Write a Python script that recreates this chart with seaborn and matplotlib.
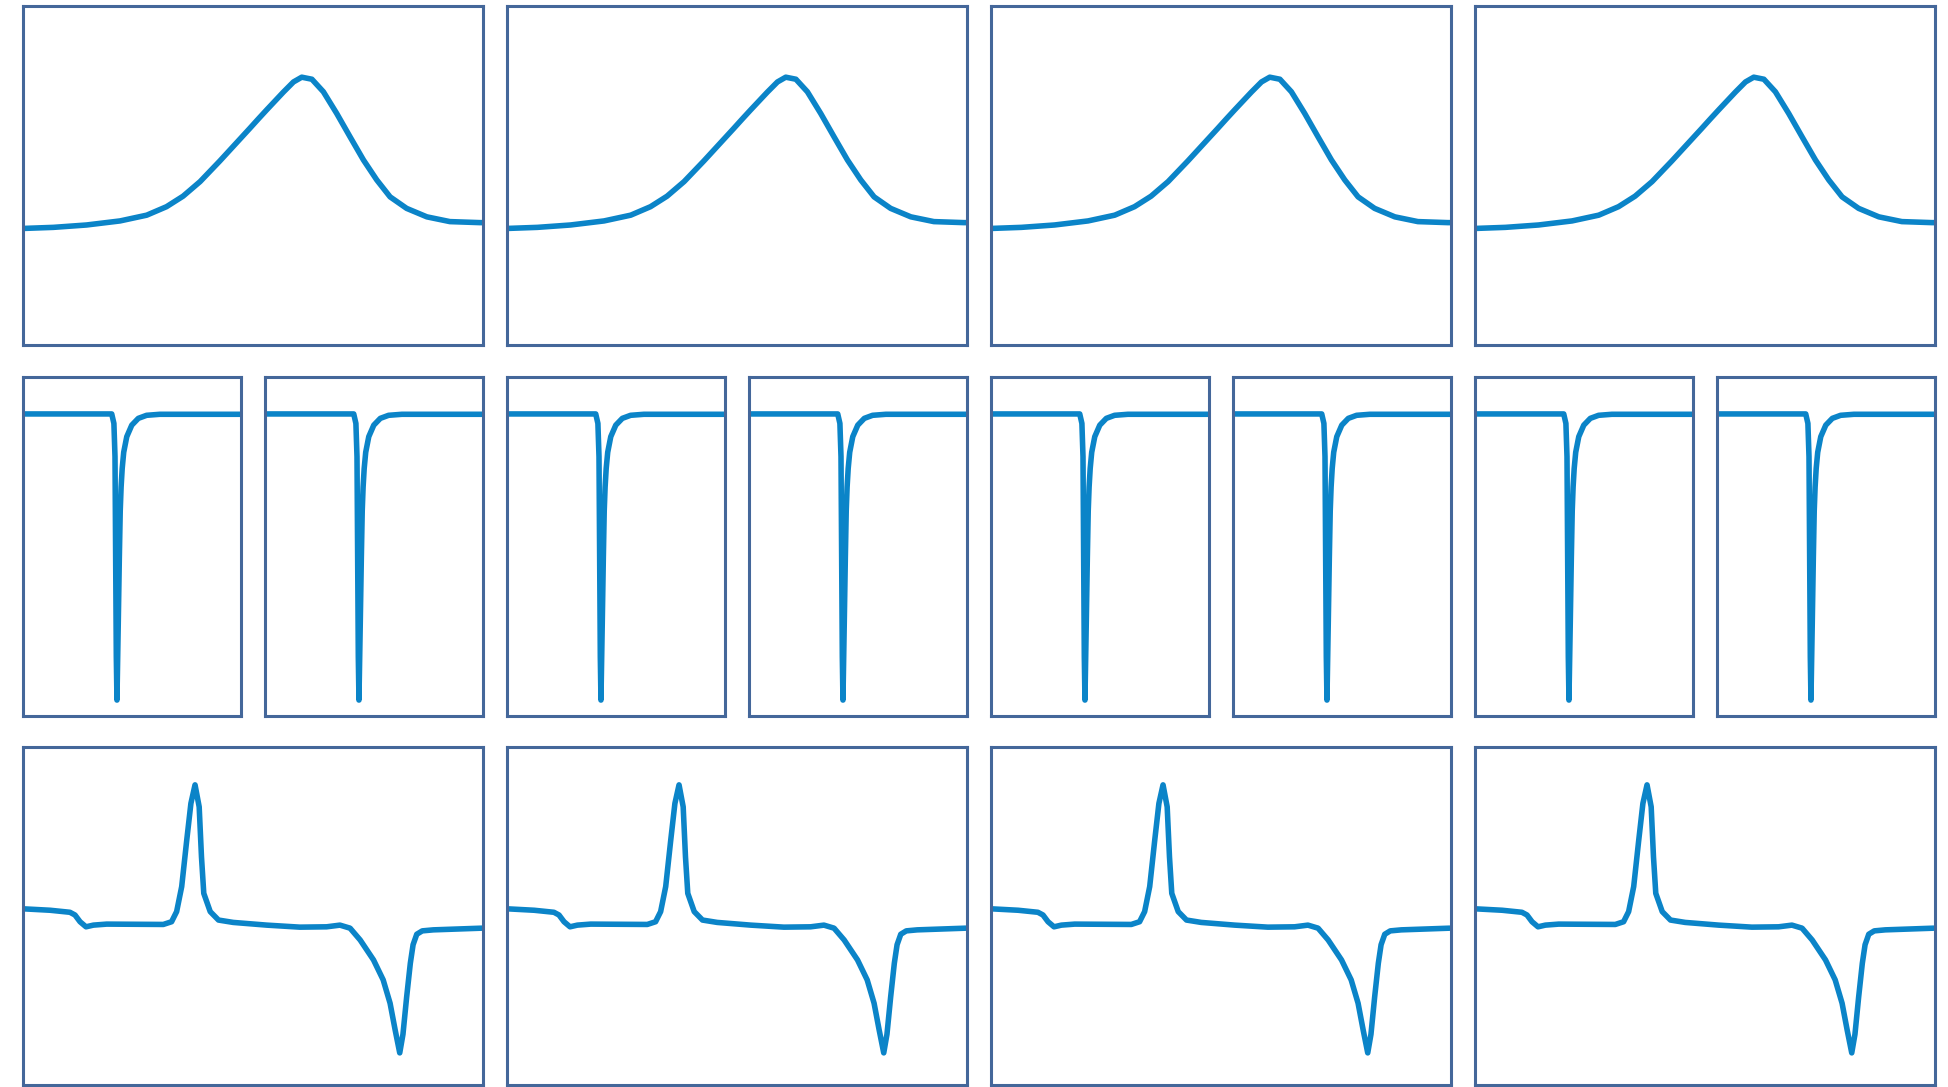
import matplotlib
matplotlib.use("Agg")
import matplotlib.pyplot as plt
import seaborn as sns
import pandas as pd

# ---- data (axes units 0..100) ----
columns = ["A", "B", "C", "D"]

top_x = [0.4, 6.6, 13.8, 21.1, 26.9, 31.2, 34.8, 38.5, 42.8, 47.2, 49.3, 51.1,
         53.0, 56.6, 58.8, 60.6, 62.8, 65.3, 68.2, 71.1, 74.0, 76.9, 79.8,
         83.4, 87.8, 92.8, 99.3, 100.0]
top_y = [34.4, 34.7, 35.4, 36.6, 38.3, 40.8, 43.9, 48.2, 54.3, 60.8, 63.9, 66.6,
         69.4, 74.6, 77.6, 79.0, 78.4, 74.7, 68.3, 61.4, 54.6, 48.7, 43.7,
         40.3, 37.8, 36.4, 36.1, 36.1]

mid_x = [0.0, 40.7, 41.7, 42.2, 42.5, 42.8, 43.1, 43.7, 44.2, 44.6, 45.0, 45.5,
         46.2, 47.6, 49.9, 52.9, 56.7, 62.8, 100.0]
mid_y = [89.1, 89.1, 86.3, 76.5, 47.0, 17.5, 4.7, 27.4, 47.0, 60.5, 67.5, 73.0,
         77.8, 82.4, 85.8, 87.8, 88.7, 89.0, 89.0]

bot_x = [0.4, 5.9, 10.2, 11.3, 12.4, 13.7, 15.3, 18.2, 30.5, 32.3, 33.4, 34.5,
         35.6, 36.5, 37.4, 38.3, 38.8, 39.3, 40.7, 42.5, 45.7, 53.0, 60.2, 66.0,
         68.9, 71.1, 73.3, 76.2, 78.3, 79.8, 80.9, 81.9, 82.6, 83.4, 84.2, 84.8,
         85.6, 86.8, 89.2, 99.7]
bot_y = [52.1, 51.7, 51.1, 50.3, 48.3, 46.8, 47.3, 47.6, 47.5, 48.3, 51.3, 58.7,
         72.5, 83.3, 88.8, 82.3, 67.5, 56.7, 51.3, 48.8, 48.1, 47.3, 46.7, 46.8,
         47.3, 46.4, 42.9, 37.0, 31.1, 24.2, 16.3, 9.5, 15.0, 26.0, 36.0, 41.5,
         44.6, 45.6, 45.9, 46.4]

LINE = "#0b84c8"
FRAME = "#44679a"

sns.set_style("white")

W, H = 1949, 1087
fig = plt.figure(figsize=(W / 100, H / 100), dpi=100)
fig.patch.set_facecolor("white")

col_left = [23, 507, 991, 1475]
col_w = 460
rows = {"top": (6, 345), "mid": (377, 716), "bot": (747, 1085)}


def make_ax(x0, x1, y0, y1):
    ax = fig.add_axes([x0 / W, 1 - y1 / H, (x1 - x0) / W, (y1 - y0) / H])
    for s in ax.spines.values():
        s.set_visible(True)
        s.set_color(FRAME)
        s.set_linewidth(2.2)
    return ax


def draw(ax, xs, ys):
    df = pd.DataFrame({"x": xs, "y": ys})
    sns.lineplot(data=df, x="x", y="y", ax=ax, color=LINE, linewidth=4.0,
                 estimator=None, sort=False,
                 solid_joinstyle="round", solid_capstyle="round")
    ax.set_xlim(0, 100)
    ax.set_ylim(0, 100)
    ax.set_xlabel("")
    ax.set_ylabel("")
    ax.set_xticks([])
    ax.set_yticks([])


for i, c in enumerate(columns):
    L = col_left[i]
    # top row
    ax = make_ax(L, L + col_w, *rows["top"])
    draw(ax, top_x, top_y)
    # middle row (two narrow panels)
    ax = make_ax(L, L + 218, *rows["mid"])
    draw(ax, mid_x, mid_y)
    ax = make_ax(L + 242, L + col_w, *rows["mid"])
    draw(ax, mid_x, mid_y)
    # bottom row
    ax = make_ax(L, L + col_w, *rows["bot"])
    draw(ax, bot_x, bot_y)

fig.savefig("out.png", dpi=100, facecolor="white")
